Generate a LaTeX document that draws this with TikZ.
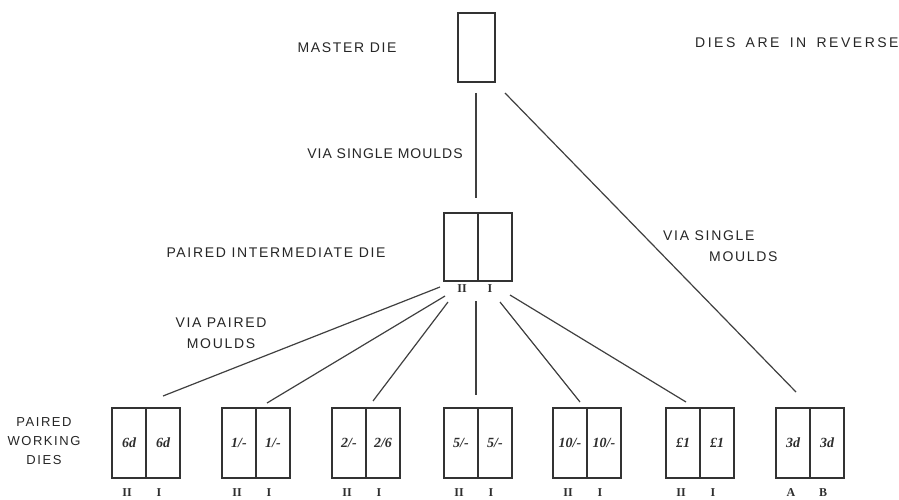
\documentclass[tikz,border=0pt]{standalone}
\usepackage{fontspec}
\newfontfamily\hand{Liberation Sans}[LetterSpace=12]
\newfontfamily\handw{Liberation Sans}[LetterSpace=18,WordSpace=1.6]
\newfontfamily\handn{Liberation Sans}[LetterSpace=7]
\newfontfamily\numf{Liberation Serif}
\newcommand{\mydie}[6]{%
  \node[half] (#1L) at (#2-17,443) {#3};
  \node[half] (#1R) at (#2+17,443) {#4};
  \node[rom] (#1a) at (#2-19,493) {#5};
  \node[rom] (#1b) at (#2+13,493) {#6};
}
\begin{document}
\begin{tikzpicture}[x=1pt,y=-1pt,
  ink/.style={draw=black!80, line width=1.3pt},
  half/.style={ink, rectangle, minimum width=34pt, minimum height=70pt, inner sep=0pt,
    font=\numf\itshape\bfseries\fontsize{14}{14}\selectfont, text=black!82},
  lbl/.style={font=\hand\fontsize{14}{21}\selectfont, text=black!85, inner sep=0pt},
  rom/.style={font=\numf\bfseries\fontsize{12}{12}\selectfont, text=black!82, inner sep=0pt},
  conn/.style={draw=black!75, line width=1.2pt}]
\useasboundingbox[fill=white] (0,0) rectangle (899,500);

% master die
\node[ink, rectangle, minimum width=37pt, minimum height=69pt, inner sep=0pt] (master) at (476.5,47.5) {};

% intermediate die
\node[half, minimum height=68pt] (interL) at (461,247) {};
\node[half, minimum height=68pt] (interR) at (495,247) {};
\node[rom] (interA) at (462,289) {II};
\node[rom] (interB) at (490,289) {I};

% working dies
\mydie{w1}{146}{6d}{6d}{II}{I}
\mydie{w2}{256}{1/-}{1/-}{II}{I}
\mydie{w3}{366}{2/-}{2/6}{II}{I}
\mydie{w4}{478}{5/-}{5/-}{II}{I}
\mydie{w5}{587}{10/-}{10/-}{II}{I}
\mydie{w6}{700}{£1}{£1}{II}{I}
\mydie{w7}{810}{3d}{3d}{A}{B}

% texts
\node[lbl] (tmaster) at (347,48) {MASTER DIE};
\node[lbl, anchor=west, font=\handw\fontsize{14}{21}\selectfont] (trev) at (695,43) {DIES ARE IN REVERSE};
\node[lbl, font=\handn\fontsize{14}{21}\selectfont] (tvia1) at (385,154) {VIA SINGLE MOULDS};
\node[lbl] (tinter) at (276,253) {PAIRED INTERMEDIATE DIE};
\node[lbl, align=center] (tvia2) at (221,333) {VIA PAIRED\\MOULDS};
\node[lbl, align=left, anchor=west] (tvia3) at (663,246) {VIA SINGLE\\\hspace*{46pt}MOULDS};
\node[lbl, align=center, font=\hand\fontsize{13}{19}\selectfont] (twork) at (44,441) {PAIRED\\WORKING\\DIES};

% connector end points
\coordinate (m1) at (476,93);
\coordinate (m2) at (476,198);
\coordinate (d1) at (505,93);
\coordinate (d2) at (796,392);
\coordinate (s1) at (440,287);  \coordinate (e1) at (163,396);
\coordinate (s2) at (445,296);  \coordinate (e2) at (267,403);
\coordinate (s3) at (448,302);  \coordinate (e3) at (373,401);
\coordinate (s4) at (476,301);  \coordinate (e4) at (476,395);
\coordinate (s5) at (500,302);  \coordinate (e5) at (580,402);
\coordinate (s6) at (510,295);  \coordinate (e6) at (686,402);

\draw[conn] (m1) -- (m2);
\draw[conn] (d1) -- (d2);
\draw[conn] (s1) -- (e1);
\draw[conn] (s2) -- (e2);
\draw[conn] (s3) -- (e3);
\draw[conn] (s4) -- (e4);
\draw[conn] (s5) -- (e5);
\draw[conn] (s6) -- (e6);
\end{tikzpicture}
\end{document}
